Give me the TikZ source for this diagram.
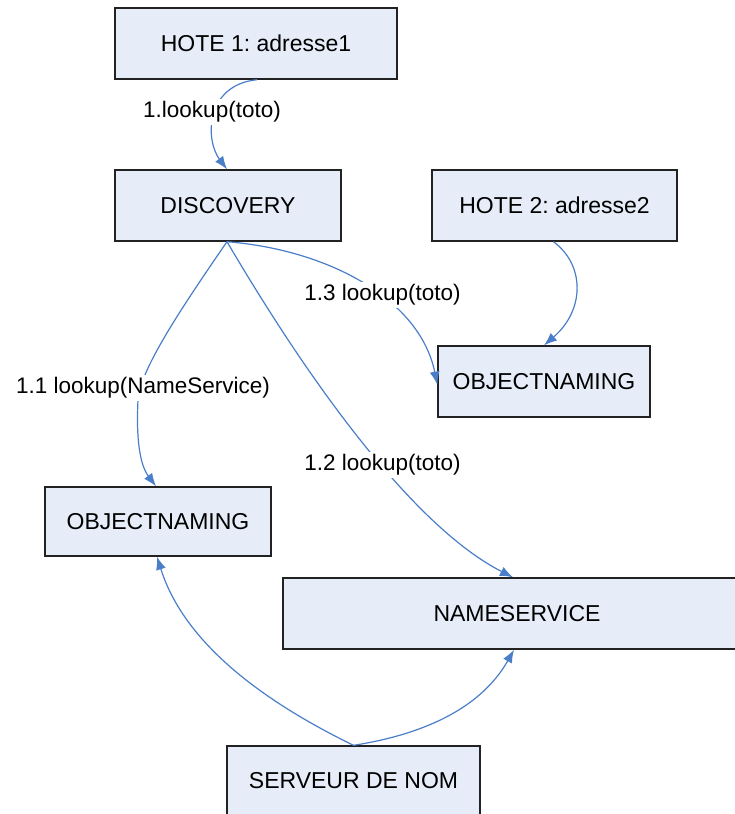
\documentclass[tikz,border=0pt]{standalone}
\usepackage{fontspec}
\setmainfont{Liberation Sans}
\frenchspacing
\usetikzlibrary{arrows.meta}
\definecolor{boxfill}{RGB}{230,237,248}
\definecolor{boxline}{RGB}{34,34,34}
\definecolor{linkblue}{RGB}{74,126,200}
\begin{document}
\begin{tikzpicture}[x=1pt,y=-1pt,
  objbox/.style={draw=boxline,line width=1.4pt,fill=boxfill,inner sep=0pt,
    font=\fontsize{23}{27}\selectfont},
  msg/.style={fill=white,inner xsep=1pt,inner ysep=3pt,
    font=\fontsize{22.5}{27}\selectfont},
  link/.style={draw=linkblue,line width=1.2pt,
    -{Latex[length=13pt,width=10pt]}}]
\useasboundingbox (0,0) rectangle (735,814);

% objects
\node[objbox,minimum width=282pt,minimum height=71pt] (h1)  at (256,43.5)  {HOTE 1: adresse1};
\node[objbox,minimum width=226pt,minimum height=71pt] (dsc) at (228,205.5) {DISCOVERY};
\node[objbox,minimum width=245pt,minimum height=71pt] (h2)  at (554.5,205.5) {HOTE 2: adresse2};
\node[objbox,minimum width=212pt,minimum height=71pt] (onr) at (544,381.5) {OBJECTNAMING};
\node[objbox,minimum width=226pt,minimum height=69pt] (onl) at (158,521.5) {OBJECTNAMING};
\node[objbox,minimum width=468pt,minimum height=71pt] (ns)  at (517,613.5) {NAMESERVICE};
\node[objbox,minimum width=253pt,minimum height=70pt] (sv)  at (353.5,781) {SERVEUR DE NOM};

% messages
\draw[link] ([xshift=1pt]h1.south) .. controls (205,85) and (205,140) .. ([xshift=-1pt]dsc.north);
\draw[link] ([xshift=-1pt]dsc.south) .. controls (180,310) and (140,370) .. (138,400)
  .. controls (136,440) and (140,465) .. ([xshift=-2pt]onl.north);
\draw[link] ([xshift=-1pt]dsc.south) .. controls (320,400) and (420,530) .. ([xshift=-4pt]ns.north);
\draw[link] ([xshift=-1pt]dsc.south) .. controls (330,250) and (420,300) .. ([yshift=-3pt]onr.west);
\draw[link] ([xshift=-1pt]h2.south) .. controls (585,265) and (585,310) .. (onr.north);
\draw[link] (sv.north) .. controls (240,690) and (180,630) .. ([xshift=-1pt]onl.south);
\draw[link] (sv.north) .. controls (420,735) and (480,710) .. ([xshift=-3pt]ns.south);

% message labels
\node[msg] (m1)  at (212,112)   {1.lookup(toto)};
\node[msg] (m11) at (143,388)   {1.1 lookup(NameService)};
\node[msg] (m13) at (382.5,295) {1.3 lookup(toto)};
\node[msg] (m12) at (382.5,465) {1.2 lookup(toto)};
\end{tikzpicture}
\end{document}
